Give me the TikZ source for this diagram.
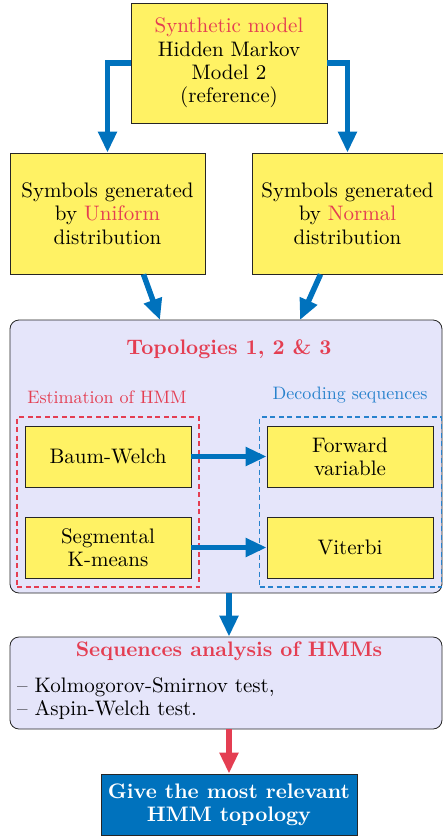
\documentclass[tikz,border=0pt]{standalone}
\usepackage{fontspec}
\setmainfont{lmroman10-regular.otf}[BoldFont=lmroman10-bold.otf]
\usetikzlibrary{arrows.meta}
\definecolor{boxyellow}{RGB}{255,242,100}
\definecolor{lav}{RGB}{229,229,250}
\definecolor{arrblue}{RGB}{0,114,189}
\definecolor{hred}{RGB}{228,62,82}
\definecolor{lblue}{RGB}{40,130,205}
\begin{document}
\begin{tikzpicture}[x=1pt,y=-1pt,
  font=\fontsize{21}{23.3}\selectfont,
  ybox/.style={draw=black!85, fill=boxyellow, line width=0.8pt, align=center, inner sep=0pt},
  lavbox/.style={draw=black!85, fill=lav, line width=0.8pt, rounded corners=9pt, inner sep=0pt},
  dbox/.style={line width=1.2pt, dash pattern=on 5pt off 3.5pt, inner sep=0pt},
  barrow/.style={draw=arrblue, line width=5.5pt, -{Triangle[length=21pt,width=18pt]}},
  rarrow/.style={draw=hred, line width=5.5pt, -{Triangle[length=21pt,width=18pt]}},
  smalllabel/.style={font=\fontsize{18}{20}\selectfont, inner sep=0pt},
  titlelabel/.style={font=\fontsize{21}{23.3}\selectfont\bfseries, text=hred, inner sep=0pt}
]
\useasboundingbox (0,0) rectangle (443,836);
% top
\node[ybox, minimum width=196pt, minimum height=120pt] (top) at (229,63)
  {\textcolor{hred}{Synthetic model}\\Hidden Markov\\Model 2\\(reference)};
\node[ybox, minimum width=195pt, minimum height=121pt] (left) at (107.5,213.5)
  {Symbols generated\\by \textcolor{hred}{Uniform}\\distribution};
\node[ybox, minimum width=191pt, minimum height=121pt] (right) at (347.5,213.5)
  {Symbols generated\\by \textcolor{hred}{Normal}\\distribution};
\draw[barrow] (top.west) -| (left.north);
\draw[barrow] (top.east) -| (right.north);
% big box
\node[lavbox, minimum width=432pt, minimum height=273pt] (big) at (226,456.5) {};
\coordinate (d1) at (160,320);
\coordinate (d2) at (300,320);
\draw[barrow] ([xshift=36pt]left.south) -- (d1);
\draw[barrow] ([xshift=-27pt]right.south) -- (d2);
\node[titlelabel] (topo) at (229,349) {Topologies 1, 2 \& 3};
\node[smalllabel, text=hred] (est) at (107,397) {Estimation of HMM};
\node[smalllabel, text=lblue] (dec) at (350,395) {Decoding sequences};
\node[dbox, draw=hred, minimum width=182pt, minimum height=170pt] (redd) at (108,502) {};
\node[dbox, draw=lblue, minimum width=182pt, minimum height=170pt] (blued) at (350.5,502) {};
\node[ybox, minimum width=166pt, minimum height=61pt] (bw) at (108,456.5) {Baum-Welch};
\node[ybox, minimum width=166pt, minimum height=61pt] (fv) at (350,456.5) {Forward\\variable};
\node[ybox, minimum width=166pt, minimum height=61pt] (sk) at (108,547.5) {Segmental\\K-means};
\node[ybox, minimum width=166pt, minimum height=61pt] (vt) at (350,547.5) {Viterbi};
\draw[barrow] (bw.east) -- (fv.west);
\draw[barrow] (sk.east) -- (vt.west);
% sequences box
\node[lavbox, minimum width=432pt, minimum height=92pt] (seq) at (226,683) {};
\node[titlelabel] (seqt) at (229,651) {Sequences analysis of HMMs};
\node[anchor=west, align=left, inner sep=0pt] (tests) at (17,698.5)
  {-- Kolmogorov-Smirnov test,\\-- Aspin-Welch test.};
% final
\node[draw=black!85, fill=arrblue, line width=0.8pt, minimum width=256pt, minimum height=61pt,
  inner sep=0pt, align=center, text=white, font=\fontsize{21}{23.3}\selectfont\bfseries]
  (fin) at (229,804.5) {Give the most relevant\\HMM topology};
\draw[barrow] (big.south -| fin.north) -- (seq.north -| fin.north);
\draw[rarrow] (seq.south -| fin.north) -- (fin.north);
\end{tikzpicture}
\end{document}
